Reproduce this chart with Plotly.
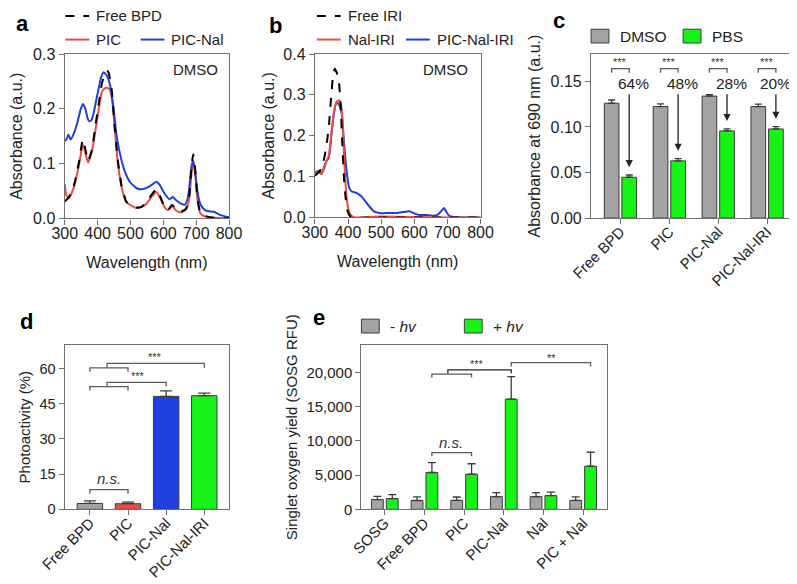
import plotly.graph_objects as go

# ---------- panel a : spectra in DMSO ----------
a_bpd_wl = [300, 313, 328, 343, 355, 363, 371, 383, 393, 403, 413, 421, 428, 433, 443, 451, 461, 473,
            488, 504, 519, 534, 549, 564, 579, 589, 604, 614, 627, 639, 654, 669, 679, 686, 691, 697,
            704, 712, 724, 754, 800]
a_bpd_abs = [0.031, 0.039, 0.060, 0.102, 0.144, 0.126, 0.105, 0.126, 0.168, 0.207, 0.246, 0.261, 0.269,
             0.267, 0.234, 0.174, 0.108, 0.060, 0.030, 0.024, 0.020, 0.021, 0.030, 0.043, 0.053, 0.042,
             0.021, 0.015, 0.025, 0.015, 0.012, 0.018, 0.042, 0.096, 0.117, 0.090, 0.036, 0.012, 0.005,
             0.001, 0.0]

a_pic_wl = [300, 305, 313, 328, 343, 355, 363, 371, 383, 393, 403, 413, 421, 431, 438, 445, 453, 461,
            473, 488, 504, 519, 534, 549, 564, 579, 589, 604, 614, 627, 639, 654, 669, 679, 686, 691,
            697, 704, 712, 724, 754, 800]
a_pic_abs = [0.063, 0.042, 0.037, 0.057, 0.096, 0.135, 0.119, 0.102, 0.123, 0.159, 0.198, 0.231, 0.237,
             0.238, 0.234, 0.212, 0.158, 0.105, 0.057, 0.029, 0.023, 0.019, 0.021, 0.027, 0.039, 0.048,
             0.039, 0.020, 0.015, 0.023, 0.014, 0.011, 0.016, 0.036, 0.084, 0.102, 0.081, 0.033, 0.010,
             0.004, 0.001, 0.0]

a_nal_wl = [300, 306, 311, 318, 328, 338, 348, 355, 363, 370, 375, 382, 388, 398, 411, 418, 428, 438,
            448, 458, 472, 484, 499, 519, 534, 554, 569, 579, 589, 604, 619, 629, 639, 654, 666, 676,
            686, 691, 696, 704, 714, 729, 754, 774, 800]
a_nal_abs = [0.141, 0.145, 0.153, 0.144, 0.155, 0.174, 0.198, 0.209, 0.200, 0.182, 0.177, 0.180, 0.192,
             0.222, 0.258, 0.267, 0.261, 0.243, 0.204, 0.150, 0.108, 0.084, 0.066, 0.055, 0.053, 0.057,
             0.063, 0.067, 0.061, 0.045, 0.035, 0.039, 0.033, 0.027, 0.025, 0.042, 0.096, 0.105, 0.090,
             0.048, 0.024, 0.014, 0.012, 0.006, 0.002]

# ---------- panel b : spectra in DMSO ----------
b_iri_wl = [300, 315, 325, 335, 343, 350, 355, 360, 367, 373, 378, 383, 388, 393, 398, 405, 415, 500,
            600, 700, 800]
b_iri_abs = [0.102, 0.114, 0.134, 0.175, 0.231, 0.304, 0.348, 0.364, 0.352, 0.328, 0.271, 0.175, 0.094,
             0.046, 0.018, 0.004, 0.0, 0.0, 0.0, 0.0, 0.0]

b_naliri_wl = [300, 310, 320, 327, 335, 342, 350, 357, 365, 373, 380, 385, 390, 395, 402, 410, 420, 500,
               600, 700, 800]
b_naliri_abs = [0.112, 0.112, 0.106, 0.118, 0.138, 0.150, 0.207, 0.255, 0.283, 0.287, 0.271, 0.207, 0.118,
                0.054, 0.018, 0.004, 0.0, 0.002, 0.001, 0.0, 0.0]

b_pic_wl = [300, 313, 320, 327, 335, 342, 350, 357, 365, 371, 377, 382, 388, 395, 403, 410, 425, 440,
            450, 465, 480, 500, 525, 550, 575, 585, 600, 615, 635, 655, 670, 680, 690, 697, 705, 720, 800]
b_pic_abs = [0.110, 0.114, 0.107, 0.122, 0.138, 0.146, 0.203, 0.251, 0.281, 0.278, 0.268, 0.247, 0.183,
             0.118, 0.074, 0.064, 0.060, 0.052, 0.042, 0.026, 0.014, 0.010, 0.011, 0.011, 0.014, 0.015,
             0.010, 0.006, 0.006, 0.004, 0.006, 0.014, 0.023, 0.013, 0.004, 0.001, 0.0]

# ---------- panel c : absorbance at 690 nm ----------
c_groups = ["Free BPD", "PIC", "PIC-Nal", "PIC-Nal-IRI"]
c_dmso = [0.126, 0.1224, 0.1339, 0.1224]
c_dmso_err = [0.0036, 0.0030, 0.0015, 0.0026]
c_pbs = [0.0448, 0.0628, 0.0957, 0.0978]
c_pbs_err = [0.0025, 0.0025, 0.0023, 0.0026]
c_drop = ["64%", "48%", "28%", "20%"]

# ---------- panel d : photoactivity ----------
d_groups = ["Free BPD", "PIC", "PIC-Nal", "PIC-Nal-IRI"]
d_vals = [2.5, 2.4, 48.1, 48.4]
d_err = [1.1, 0.7, 2.4, 1.1]

# ---------- panel e : singlet oxygen ----------
e_groups = ["SOSG", "Free BPD", "PIC", "PIC-Nal", "Nal", "PIC + Nal"]
e_dark = [1430, 1290, 1300, 1860, 1860, 1300]
e_dark_err = [470, 520, 500, 570, 570, 520]
e_light = [1570, 5380, 5140, 16100, 2000, 6290]
e_light_err = [570, 1430, 1520, 3290, 520, 2050]

GRAY = "#a3a3a3"
GREEN = "#17f217"
RED = "#ee4b3e"
BLUE = "#1f3fe0"
EDGE = "#3c3c3c"
AXC = "#6f6f6f"
TXT = "#222"
FONT = "Liberation Sans, Arial, sans-serif"
# layout positions are worked out on the 797x584 reference; the page body keeps an 8px margin,
# so the figure itself is drawn 8px smaller and paper fractions stay the same
W, H = 797, 584
FIG_W, FIG_H = W - 8, H - 8

fig = go.Figure()


def spec(x, y, name, color, dash, xa, ya):
    fig.add_trace(go.Scatter(
        x=x, y=y, name=name, mode="lines", xaxis=xa, yaxis=ya, showlegend=False,
        line=dict(color=color, width=2, dash=dash, shape="spline", smoothing=0.5)))


spec(a_pic_wl, a_pic_abs, "PIC", RED, "solid", "x", "y")
spec(a_nal_wl, a_nal_abs, "PIC-Nal", BLUE, "solid", "x", "y")
spec(a_bpd_wl, a_bpd_abs, "Free BPD", "black", "dash", "x", "y")

spec(b_pic_wl, b_pic_abs, "PIC-Nal-IRI", BLUE, "solid", "x2", "y2")
spec(b_naliri_wl, b_naliri_abs, "Nal-IRI", RED, "solid", "x2", "y2")
spec(b_iri_wl, b_iri_abs, "Free IRI", "black", "dash", "x2", "y2")


def errs(vals, tops, w):
    return dict(type="data", array=tops, arrayminus=[0] * len(vals), symmetric=False,
                color=EDGE, thickness=1.3, width=w)


# panel c bars
cw, co = 0.30, 0.18
fig.add_trace(go.Bar(x=c_groups, y=c_dmso, name="DMSO", width=cw, offset=-co - cw / 2, showlegend=False,
                     marker=dict(color=GRAY, line=dict(color=EDGE, width=1)),
                     error_y=errs(c_dmso, c_dmso_err, 3.5), xaxis="x3", yaxis="y3"))
fig.add_trace(go.Bar(x=c_groups, y=c_pbs, name="PBS", width=cw, offset=co - cw / 2, showlegend=False,
                     marker=dict(color=GREEN, line=dict(color=EDGE, width=1)),
                     error_y=errs(c_pbs, c_pbs_err, 3.5), xaxis="x3", yaxis="y3"))

# panel d bars
fig.add_trace(go.Bar(x=d_groups, y=d_vals, width=0.667, showlegend=False,
                     marker=dict(color=[GRAY, RED, BLUE, GREEN], line=dict(color=EDGE, width=1)),
                     error_y=errs(d_vals, d_err, 6), xaxis="x4", yaxis="y4"))

# panel e bars
ew, eo = 0.298, 0.187
fig.add_trace(go.Bar(x=e_groups, y=e_dark, name="- hv", width=ew, offset=-eo - ew / 2, showlegend=False,
                     marker=dict(color=GRAY, line=dict(color=EDGE, width=1)),
                     error_y=errs(e_dark, e_dark_err, 4), xaxis="x5", yaxis="y5"))
fig.add_trace(go.Bar(x=e_groups, y=e_light, name="+ hv", width=ew, offset=eo - ew / 2, showlegend=False,
                     marker=dict(color=GREEN, line=dict(color=EDGE, width=1)),
                     error_y=errs(e_light, e_light_err, 4), xaxis="x5", yaxis="y5"))

shapes = []
notes = []


def text(x, y, s, xref, yref, size, xanchor="center", color=TXT, **kw):
    notes.append(dict(x=x, y=y, xref=xref, yref=yref, text=s, showarrow=False, xanchor=xanchor,
                      yanchor="middle", font=dict(size=size, color=color), **kw))


def bracket(xa, ya, x0, x1, y, drop, color="#5a5a5a"):
    pts = [(x0, y - drop), (x0, y), (x1, y), (x1, y - drop)]
    path = "M" + " L".join(f"{px},{py}" for px, py in pts)
    shapes.append(dict(type="path", path=path, xref=xa, yref=ya, line=dict(color=color, width=1.3)))


# panel c: stars, arrows and % drops
for i, txt in enumerate(c_drop):
    bracket("x3", "y3", i - co, i + co, 0.164, 0.0044)
    text(i, 0.1712, "***", "x3", "y3", 11, color="#333")
    top = c_pbs[i] + c_pbs_err[i]
    notes.append(dict(x=i + co, y=top + 0.0085, ax=i + co, ay=0.1375, xref="x3", yref="y3",
                      axref="x3", ayref="y3", text="", showarrow=True, arrowhead=2, arrowsize=1.1,
                      arrowwidth=1.3, arrowcolor="#222"))
    text(i + co, 0.1478, txt, "x3", "y3", 15.5, xshift=[4, 4, 4.5, 0][i])

# panel d brackets
bracket("x4", "y4", 0, 1, 8.4, 1.7)
text(0.49, 13.2, "<i>n.s.</i>", "x4", "y4", 15, color="#333")
bracket("x4", "y4", 0, 1, 52.3, 1.7)
bracket("x4", "y4", 0.45, 2, 54.1, 1.8)
text(1.27, 56.6, "***", "x4", "y4", 11, color="#333")
bracket("x4", "y4", 0, 1, 60.3, 1.7)
bracket("x4", "y4", 0.45, 3, 62.2, 1.9)
text(1.72, 65.0, "***", "x4", "y4", 11, color="#333")

# panel e brackets
bracket("x5", "y5", 1 + eo, 2 + eo, 8290, 530)
text(1.68, 9750, "<i>n.s.</i>", "x5", "y5", 15, color="#333")
bracket("x5", "y5", 1 + eo, 2 + eo, 19760, 520)
bracket("x5", "y5", 1.59, 3 + eo, 20380, 520, "#222")
text(2.33, 21250, "***", "x5", "y5", 11, color="#333")
bracket("x5", "y5", 3 + eo, 5 + eo, 21430, 570)
text(4.19, 22100, "**", "x5", "y5", 11, color="#333")

# DMSO tags and panel letters
text(697, 0.2725, "DMSO", "x", "y", 15)
text(694, 0.363, "DMSO", "x2", "y2", 15)
for letter, px, py in [("a", 15, 16), ("b", 270, 18), ("c", 557, 13), ("d", 19, 318), ("e", 314, 314)]:
    text(px / W, 1 - py / H, f"<b>{letter}</b>", "paper", "paper", 22, color="black")


# hand-placed legends (pixel positions of the key, then the text)
def key_line(x0, y, name, color, dash):
    shapes.append(dict(type="line", xref="paper", yref="paper", x0=x0 / W, x1=(x0 + 24) / W,
                       y0=1 - y / H, y1=1 - y / H, line=dict(color=color, width=2, dash=dash)))
    text((x0 + 29) / W, 1 - y / H, name, "paper", "paper", 15, "left")


def key_box(x0, y, name, color):
    shapes.append(dict(type="rect", xref="paper", yref="paper", x0=x0 / W, x1=(x0 + 18) / W,
                       y0=1 - (y + 7) / H, y1=1 - (y - 7) / H, fillcolor=color,
                       line=dict(color=EDGE, width=1)))
    text((x0 + 27) / W, 1 - y / H, name, "paper", "paper", 15.5, "left")


key_line(58, 8, "Free BPD", "black", "dash")
key_line(58, 32, "PIC", RED, "solid")
key_line(134, 32, "PIC-Nal", BLUE, "solid")
key_line(312, 8, "Free IRI", "black", "dash")
key_line(312, 32, "Nal-IRI", RED, "solid")
key_line(402, 32, "PIC-Nal-IRI", BLUE, "solid")
key_box(589, 28.5, "DMSO", GRAY)
key_box(682, 28.5, "PBS", GREEN)
key_box(357, 322.5, "- <i>hv</i>", GRAY)
key_box(461, 322.5, "+ <i>hv</i>", GREEN)


def xax(d0, d1, anchor, tsize=16, standoff=16, tfs=16, **kw):
    base = dict(domain=[d0 / W, d1 / W], anchor=anchor, showline=True, mirror=True, automargin=False,
                linecolor=AXC, linewidth=1.3, ticks="outside", ticklen=5, tickcolor=AXC, tickwidth=1.3,
                showgrid=False, zeroline=False, tickfont=dict(size=tsize, color=TXT),
                title=dict(font=dict(size=tfs, color=TXT), standoff=standoff))
    base.update(kw)
    return base


def yax(p0, p1, anchor, tsize=16, standoff=10, tfs=16, **kw):
    return xax(0, W, anchor, tsize, standoff, tfs, domain=[1 - p1 / H, 1 - p0 / H], **kw)


fig.update_layout(
    width=FIG_W, height=FIG_H, margin=dict(l=0, r=0, t=0, b=0, autoexpand=False),
    plot_bgcolor="white", paper_bgcolor="white", font=dict(family=FONT, color=TXT),
    barmode="overlay", shapes=shapes, annotations=notes, showlegend=False,
    xaxis=xax(57.3, 223.3, "y", range=[300, 800], dtick=100, title_text="Wavelength (nm)",
              ticklabelstandoff=-5),
    yaxis=yax(46.7, 213.3, "x", range=[0, 0.3], dtick=0.1, tickformat=".1f",
              title_text="Absorbance (a.u.)"),
    xaxis2=xax(310, 477.3, "y2", range=[300, 800], dtick=100, title_text="Wavelength (nm)",
               ticklabelstandoff=-5),
    yaxis2=yax(46.7, 212.3, "x2", standoff=4, range=[0, 0.4], dtick=0.1, tickformat=".1f",
               title_text="Absorbance (a.u.)"),
    xaxis3=xax(589, 791, "y3", 15, type="category", range=[-0.6, 3.49], tickangle=-45,
               ticklabelstandoff=-7),
    yaxis3=yax(46.7, 213.0, "x3", standoff=5, range=[0, 0.18], dtick=0.05, tickformat=".2f",
               title_text="Absorbance at 690 nm (a.u.)"),
    xaxis4=xax(57.3, 223.3, "y4", 15, type="category", range=[-0.66, 3.65], tickangle=-45,
               ticklabelstandoff=-7),
    yaxis4=yax(341.7, 508.3, "x4", 14.5, 5, 15, range=[0, 70], dtick=15, title_text="Photoactivity (%)"),
    xaxis5=xax(357, 605, "y5", 15, type="category", range=[-0.59, 5.6], tickangle=-45,
               ticklabelstandoff=-7),
    yaxis5=yax(341.7, 508.3, "x5", 15, 5, 15, range=[0, 24000], dtick=5000, tickformat=",",
               title_text="Singlet oxygen yield (SOSG RFU)"),
)

fig.write_html("out.html")
